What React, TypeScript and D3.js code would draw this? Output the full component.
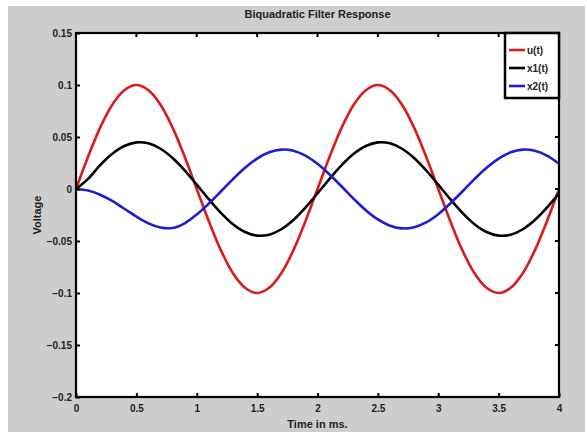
import React, { useEffect, useRef } from 'react';
import * as d3 from 'd3';

// time axis (ms), sampled every 0.1
const times = d3.range(0, 41).map(i => i / 10);

// values
const uValues = [
  0, 0.031, 0.059, 0.081, 0.095, 0.1, 0.095, 0.081, 0.059, 0.031,
  0, -0.031, -0.059, -0.081, -0.095, -0.1, -0.095, -0.081, -0.059, -0.031,
  0, 0.031, 0.059, 0.081, 0.095, 0.1, 0.095, 0.081, 0.059, 0.031,
  0, -0.031, -0.059, -0.081, -0.095, -0.1, -0.095, -0.081, -0.059, -0.031,
  0
];

const x1Values = [
  0, 0.0098, 0.0229, 0.0338, 0.0413, 0.0448, 0.0439, 0.0387, 0.0298, 0.0179,
  0.0042, -0.0098, -0.0229, -0.0338, -0.0413, -0.0448, -0.0439, -0.0387, -0.0298, -0.0179,
  -0.0042, 0.0098, 0.0229, 0.0338, 0.0413, 0.0448, 0.0439, 0.0387, 0.0298, 0.0179,
  0.0042, -0.0098, -0.0229, -0.0338, -0.0413, -0.0448, -0.0439, -0.0387, -0.0298, -0.0179,
  -0.0042
];

const x2Values = [
  0, -0.0015, -0.0055, -0.0115, -0.019, -0.0265, -0.033, -0.037, -0.0375, -0.033,
  -0.0245, -0.014, -0.0024, 0.0095, 0.0204, 0.0293, 0.0353, 0.0379, 0.0368, 0.0321,
  0.0242, 0.014, 0.0024, -0.0095, -0.0204, -0.0293, -0.0353, -0.0379, -0.0368, -0.0321,
  -0.0242, -0.014, -0.0024, 0.0095, 0.0204, 0.0293, 0.0353, 0.0379, 0.0368, 0.0321,
  0.0242
];

const seriesNames = ['u(t)', 'x1(t)', 'x2(t)'];
const seriesColors = ['#d81c1c', '#000000', '#1c1cd0'];

const xTicks = [0, 0.5, 1, 1.5, 2, 2.5, 3, 3.5, 4];
const yTicks = [0.15, 0.1, 0.05, 0, -0.05, -0.1, -0.15, -0.2];

const App = () => {
  const svgRef = useRef(null);

  useEffect(() => {
    const width = 587;
    const height = 432;
    const margin = { top: 33, right: 28, bottom: 35, left: 76 };
    const svg = d3.select(svgRef.current);
    svg.selectAll('*').remove();
    svg.attr('width', width).attr('height', height);

    const font = 'Arial, "Liberation Sans", Helvetica, sans-serif';

    svg.append('rect')
      .attr('x', 8).attr('y', 6)
      .attr('width', 577).attr('height', 426)
      .attr('fill', '#cdcdcd');

    const w = width - margin.left - margin.right;
    const h = height - margin.top - margin.bottom;

    const x = d3.scaleLinear().domain([0, 4]).range([0, w]);
    const y = d3.scaleLinear().domain([-0.2, 0.15]).range([h, 0]);

    const chart = svg.append('g')
      .attr('transform', `translate(${margin.left},${margin.top})`);

    chart.append('rect')
      .attr('width', w).attr('height', h)
      .attr('fill', '#ffffff');

    const series = [uValues, x1Values, x2Values];
    const line = d3.line()
      .x((d, i) => x(times[i]))
      .y(d => y(d))
      .curve(d3.curveCatmullRom);

    chart.append('g')
      .selectAll('path')
      .data(series)
      .enter()
      .append('path')
      .attr('d', d => line(d))
      .attr('fill', 'none')
      .attr('stroke', (d, i) => seriesColors[i])
      .attr('stroke-width', 2.6)
      .attr('stroke-linejoin', 'round');

    // axes, MATLAB box style with inward ticks
    const xAxis = chart.append('g')
      .attr('transform', `translate(0,${h})`)
      .call(d3.axisBottom(x).tickValues(xTicks).tickFormat(d3.format('')).tickSizeInner(-4).tickSizeOuter(0).tickPadding(8));
    const yAxis = chart.append('g')
      .call(d3.axisLeft(y).tickValues(yTicks).tickFormat(d3.format('')).tickSizeInner(-4).tickSizeOuter(0).tickPadding(4));

    [xAxis, yAxis].forEach(a => {
      a.select('.domain').remove();
      a.selectAll('.tick line').attr('stroke', '#000').attr('stroke-width', 2);
      a.selectAll('.tick text')
        .attr('fill', '#222')
        .style('font-family', font)
        .style('font-size', '10px')
        .style('font-weight', 'bold');
    });

    // top ticks and right ticks
    chart.append('g').selectAll('line').data(xTicks).enter().append('line')
      .attr('x1', d => x(d)).attr('x2', d => x(d))
      .attr('y1', 0).attr('y2', 4)
      .attr('stroke', '#000').attr('stroke-width', 2);
    chart.append('g').selectAll('line').data(yTicks).enter().append('line')
      .attr('x1', w).attr('x2', w - 4)
      .attr('y1', d => y(d)).attr('y2', d => y(d))
      .attr('stroke', '#000').attr('stroke-width', 2);

    chart.append('rect')
      .attr('width', w).attr('height', h)
      .attr('fill', 'none')
      .attr('stroke', '#000')
      .attr('stroke-width', 2.2);

    // legend
    const legendW = 54;
    const legendH = 65;
    const legend = chart.append('g')
      .attr('transform', `translate(${w - legendW},0)`);
    legend.append('rect')
      .attr('width', legendW).attr('height', legendH)
      .attr('fill', '#ffffff')
      .attr('stroke', '#000')
      .attr('stroke-width', 2.5);
    const items = legend.selectAll('g.item')
      .data(seriesNames)
      .enter()
      .append('g')
      .attr('class', 'item')
      .attr('transform', (d, i) => `translate(0,${17 + i * 18})`);
    items.append('line')
      .attr('x1', 4).attr('x2', 20)
      .attr('stroke', (d, i) => seriesColors[i])
      .attr('stroke-width', 2.6);
    items.append('text')
      .attr('x', 22)
      .attr('dy', '0.35em')
      .style('font-family', font)
      .style('font-size', '10px')
      .style('font-weight', 'bold')
      .attr('fill', '#222')
      .text(d => d);

    chart.append('text')
      .attr('x', w / 2)
      .attr('y', -15)
      .style('text-anchor', 'middle')
      .style('font-family', font)
      .style('font-size', '11px')
      .style('font-weight', 'bold')
      .attr('fill', '#222')
      .text('Biquadratic Filter Response');

    chart.append('text')
      .attr('x', w / 2)
      .attr('y', h + 31)
      .style('text-anchor', 'middle')
      .style('font-family', font)
      .style('font-size', '11px')
      .style('font-weight', 'bold')
      .attr('fill', '#222')
      .text('Time in ms.');

    chart.append('text')
      .attr('transform', 'rotate(-90)')
      .attr('x', -h / 2)
      .attr('y', -35)
      .style('text-anchor', 'middle')
      .style('font-family', font)
      .style('font-size', '11px')
      .style('font-weight', 'bold')
      .attr('fill', '#222')
      .text('Voltage');
  }, []);

  return (
    <svg ref={svgRef} style={{ position: 'absolute', left: 0, top: 0 }}></svg>
  );
};

export default App;
